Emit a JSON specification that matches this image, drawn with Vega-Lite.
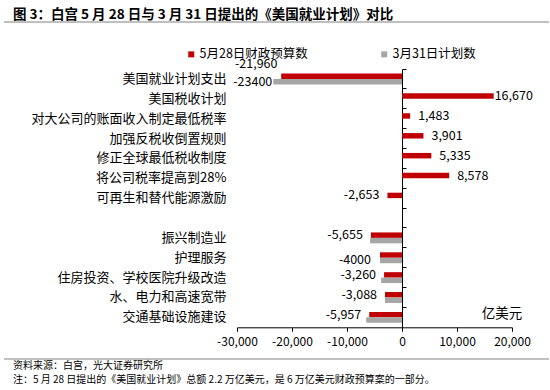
{
  "$schema": "https://vega.github.io/schema/vega-lite/v6.json",
  "padding": {"left": 3, "top": 8, "right": 0, "bottom": 0},
  "autosize": {"type": "pad"},
  "background": "white",
  "spacing": 0,
  "bounds": "flush",
  "config": {"font": "Noto Sans CJK SC", "view": {"stroke": null}},
  "vconcat": [
    {
      "width": 545,
      "height": 1,
      "title": {"text": "图 3：白宫 5 月 28 日与 3 月 31 日提出的《美国就业计划》对比", "anchor": "start", "dx": 9, "fontSize": 13.5, "fontWeight": "bold", "color": "#000000", "offset": -6, "font": "Noto Sans CJK SC"},
      "data": {"values": [{"a": 1}]},
      "mark": {"type": "text", "text": ""},
      "encoding": {}
    },
    {
      "width": 545,
      "height": 337,
      "data": {"values": [
        {"cat": "美国就业计划支出", "series": "5月28日财政预算数", "value": -21960, "label": "-21,960"},
        {"cat": "美国就业计划支出", "series": "3月31日计划数", "value": -23400, "label": "-23400"},
        {"cat": "美国税收计划", "series": "5月28日财政预算数", "value": 16670, "label": "16,670"},
        {"cat": "对大公司的账面收入制定最低税率", "series": "5月28日财政预算数", "value": 1483, "label": "1,483"},
        {"cat": "加强反税收倒置规则", "series": "5月28日财政预算数", "value": 3901, "label": "3,901"},
        {"cat": "修正全球最低税收制度", "series": "5月28日财政预算数", "value": 5335, "label": "5,335"},
        {"cat": "将公司税率提高到28%", "series": "5月28日财政预算数", "value": 8578, "label": "8,578"},
        {"cat": "可再生和替代能源激励", "series": "5月28日财政预算数", "value": -2653, "label": "-2,653"},
        {"cat": "振兴制造业", "series": "5月28日财政预算数", "value": -5655, "label": "-5,655"},
        {"cat": "振兴制造业", "series": "3月31日计划数", "value": -5800, "label": ""},
        {"cat": "护理服务", "series": "5月28日财政预算数", "value": -4000, "label": ""},
        {"cat": "护理服务", "series": "3月31日计划数", "value": -4000, "label": "-4000"},
        {"cat": "住房投资、学校医院升级改造", "series": "5月28日财政预算数", "value": -3260, "label": "-3,260"},
        {"cat": "住房投资、学校医院升级改造", "series": "3月31日计划数", "value": -3800, "label": ""},
        {"cat": "水、电力和高速宽带", "series": "5月28日财政预算数", "value": -3088, "label": "-3,088"},
        {"cat": "水、电力和高速宽带", "series": "3月31日计划数", "value": -3100, "label": ""},
        {"cat": "交通基础设施建设", "series": "5月28日财政预算数", "value": -5957, "label": "-5,957"},
        {"cat": "交通基础设施建设", "series": "3月31日计划数", "value": -6500, "label": ""}
      ]},
      "layer": [
        {
          "layer": [
            {
              "mark": {"type": "bar"},
              "encoding": {
                "y": {"field": "cat", "type": "nominal",
                  "scale": {"domain": ["美国就业计划支出", "美国税收计划", "对大公司的账面收入制定最低税率", "加强反税收倒置规则", "修正全球最低税收制度", "将公司税率提高到28%", "可再生和替代能源激励", " ", "振兴制造业", "护理服务", "住房投资、学校医院升级改造", "水、电力和高速宽带", "交通基础设施建设"], "range": [47, 305.3], "paddingInner": 0, "paddingOuter": 0},
                  "axis": {"orient": "left", "offset": -222, "ticks": false, "tickSize": 0, "domain": false, "labelPadding": 0, "labelFontSize": 13, "labelColor": "#000000", "labelLimit": 400, "title": null, "grid": false}},
                "yOffset": {"field": "series", "scale": {"domain": ["5月28日财政预算数", "3月31日计划数"], "paddingInner": 0, "paddingOuter": 0.82}},
                "x": {"field": "value", "type": "quantitative",
                  "scale": {"domain": [-30000, 20000], "range": [233, 508], "nice": false},
                  "axis": {"orient": "bottom", "values": [-30000, -20000, -10000, 0, 10000, 20000], "labelExpr": "replace(format(datum.value, ','), '\u2212', '-')", "labelOverlap": false, "labelFlush": false, "offset": -31.7, "domain": true, "domainColor": "#000000", "tickColor": "#000000", "tickSize": 4, "labelFontSize": 12, "labelColor": "#000000", "labelPadding": 5, "grid": false, "title": null}},
                "color": {"field": "series", "type": "nominal",
                  "scale": {"domain": ["5月28日财政预算数", "3月31日计划数"], "range": ["#C00000", "#A6A6A6"]},
                  "legend": {"title": null, "orient": "none", "legendX": 181, "legendY": 27, "direction": "horizontal", "symbolType": "square", "symbolSize": 36, "symbolStrokeWidth": 0, "labelFontSize": 12.5, "labelColor": "#000000", "columnPadding": 70, "labelOffset": 2, "padding": 0}}
              }
            },
            {
              "mark": {"type": "text", "text": ""},
              "encoding": {
                "y": {"field": "cat", "type": "nominal",
                  "axis": {"orient": "right", "offset": -147, "labels": false, "ticks": true, "tickSize": 4, "tickColor": "#000000", "domainColor": "#000000", "bandPosition": 0, "title": null, "grid": false}},
                "x": {"field": "value", "type": "quantitative"}
              }
            },
            {
              "transform": [{"filter": "datum.series == '5月28日财政预算数' && datum.value > 0 && datum.value < 10000"}],
              "mark": {"type": "text", "align": "left", "dx": 8, "fontSize": 12.5, "color": "#000000"},
              "encoding": {
                "y": {"field": "cat", "type": "nominal", "axis": null},
                "yOffset": {"field": "series"},
                "x": {"field": "value", "type": "quantitative"},
                "text": {"field": "label"}
              }
            },
            {
              "transform": [{"filter": "datum.series == '5月28日财政预算数' && datum.value > 10000"}],
              "mark": {"type": "text", "align": "left", "dx": 1, "fontSize": 12.5, "color": "#000000"},
              "encoding": {
                "y": {"field": "cat", "type": "nominal", "axis": null},
                "yOffset": {"field": "series"},
                "x": {"field": "value", "type": "quantitative"},
                "text": {"field": "label"}
              }
            },
            {
              "transform": [{"filter": "datum.series == '5月28日财政预算数' && datum.value < 0 && datum.value > -20000"}],
              "mark": {"type": "text", "align": "right", "dx": -8, "fontSize": 12.5, "color": "#000000"},
              "encoding": {
                "y": {"field": "cat", "type": "nominal", "axis": null},
                "yOffset": {"field": "series"},
                "x": {"field": "value", "type": "quantitative"},
                "text": {"field": "label"}
              }
            },
            {
              "transform": [{"filter": "datum.series == '5月28日财政预算数' && datum.value < -20000"}],
              "mark": {"type": "text", "align": "center", "dx": -25, "dy": -12, "fontSize": 12.5, "color": "#000000"},
              "encoding": {
                "y": {"field": "cat", "type": "nominal", "axis": null},
                "yOffset": {"field": "series"},
                "x": {"field": "value", "type": "quantitative"},
                "text": {"field": "label"}
              }
            },
            {
              "transform": [{"filter": "datum.series == '3月31日计划数' && datum.value < -20000"}],
              "mark": {"type": "text", "align": "right", "dx": -1, "fontSize": 12.5, "color": "#000000"},
              "encoding": {
                "y": {"field": "cat", "type": "nominal", "axis": null},
                "yOffset": {"field": "series"},
                "x": {"field": "value", "type": "quantitative"},
                "text": {"field": "label"}
              }
            },
            {
              "transform": [{"filter": "datum.series == '3月31日计划数' && datum.value > -20000"}],
              "mark": {"type": "text", "align": "right", "dx": -9, "fontSize": 12.5, "color": "#000000"},
              "encoding": {
                "y": {"field": "cat", "type": "nominal", "axis": null},
                "yOffset": {"field": "series"},
                "x": {"field": "value", "type": "quantitative"},
                "text": {"field": "label"}
              }
            },
            {
              "data": {"values": [{"unit": "亿美元"}]},
              "mark": {"type": "text", "align": "center", "dy": -3, "fontSize": 13.5, "color": "#000000"},
              "encoding": {
                "y": {"datum": "交通基础设施建设", "type": "nominal", "axis": null},
                "x": {"datum": 18200, "type": "quantitative"},
                "text": {"field": "unit"}
              }
            }
          ],
          "resolve": {"axis": {"y": "independent"}}
        },
        {
          "data": {"values": [{"p": 0}, {"p": 1}]},
          "mark": {"type": "rule", "color": "#808080", "strokeWidth": 1},
          "encoding": {
            "y": {"field": "p", "type": "quantitative", "scale": {"domain": [0, 1], "nice": false, "zero": false}, "axis": null}
          }
        }
      ],
      "resolve": {"scale": {"y": "independent"}, "axis": {"y": "independent"}}
    },
    {
      "width": 545,
      "height": 1,
      "title": {"text": ["资料来源：白宫，光大证券研究所", "注：5 月 28 日提出的《美国就业计划》总额 2.2 万亿美元，是 6 万亿美元财政预算案的一部分。"], "orient": "bottom", "anchor": "start", "dx": 9, "fontSize": 10, "fontWeight": "normal", "color": "#000000", "lineHeight": 14, "offset": -4, "baseline": "top", "font": "Noto Sans CJK SC"},
      "data": {"values": [{"a": 1}]},
      "mark": {"type": "text", "text": ""},
      "encoding": {}
    }
  ]
}
